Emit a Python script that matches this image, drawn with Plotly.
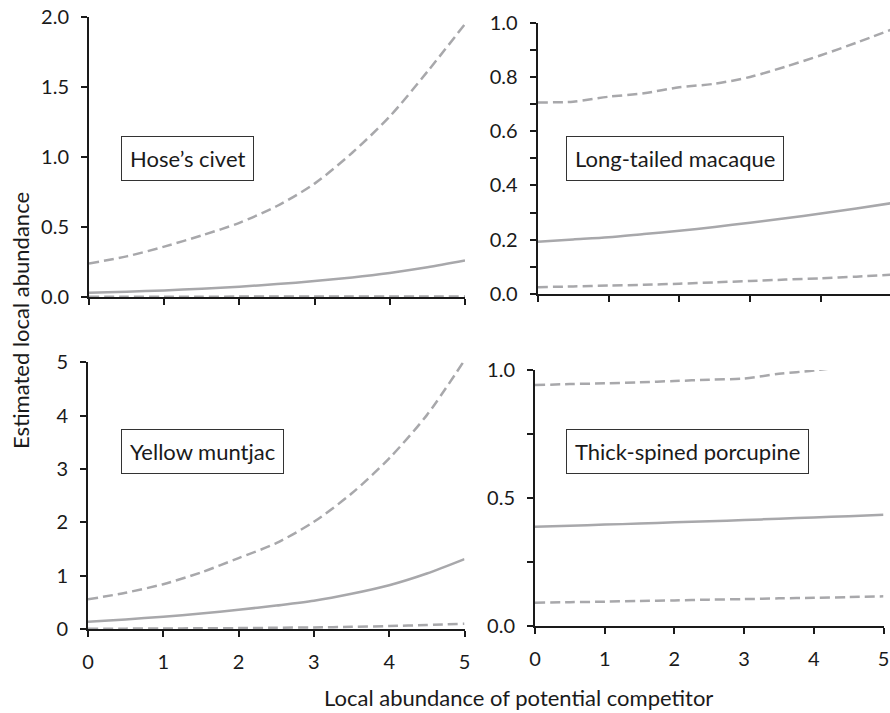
import plotly.graph_objects as go

# Competitor abundance (x) and model estimates for each species
competitor = [0, 0.5, 1, 1.5, 2, 2.5, 3, 3.5, 4, 4.5, 5]

civet_mean = [0.030, 0.038, 0.047, 0.059, 0.074, 0.092, 0.114, 0.140, 0.172, 0.212, 0.260]
civet_upper = [0.24, 0.29, 0.36, 0.44, 0.53, 0.65, 0.81, 1.03, 1.29, 1.61, 1.95]
civet_lower = [0.002, 0.002, 0.002, 0.002, 0.003, 0.003, 0.003, 0.003, 0.003, 0.004, 0.004]

macaque_mean = [0.193, 0.201, 0.209, 0.221, 0.233, 0.247, 0.263, 0.279, 0.297, 0.315, 0.335]
macaque_upper = [0.706, 0.709, 0.727, 0.740, 0.762, 0.775, 0.800, 0.838, 0.880, 0.926, 0.975]
macaque_lower = [0.025, 0.028, 0.031, 0.034, 0.038, 0.043, 0.048, 0.053, 0.058, 0.064, 0.071]

muntjac_mean = [0.138, 0.18, 0.23, 0.29, 0.36, 0.44, 0.53, 0.66, 0.82, 1.04, 1.31]
muntjac_upper = [0.556, 0.68, 0.84, 1.06, 1.33, 1.61, 2.01, 2.54, 3.20, 4.01, 5.04]
muntjac_lower = [0.005, 0.007, 0.010, 0.013, 0.017, 0.023, 0.030, 0.040, 0.055, 0.075, 0.100]

porcupine_mean = [0.388, 0.392, 0.396, 0.400, 0.405, 0.409, 0.414, 0.419, 0.424, 0.429, 0.435]
porcupine_upper = [0.941, 0.945, 0.948, 0.952, 0.957, 0.962, 0.967, 0.985, 0.998, 1.015, 1.030]
porcupine_lower = [0.091, 0.093, 0.095, 0.098, 0.100, 0.103, 0.105, 0.108, 0.110, 0.113, 0.116]

species = ["Hose\u2019s civet", "Long-tailed macaque", "Yellow muntjac", "Thick-spined porcupine"]

W, H = 890, 713
FONT = "Lato, Carlito, Calibri, sans-serif"
INK = "#1a1a1a"
GREY = "#A8A8AB"
LINE_W = 2.5
DASH = "10px,5px"

panels = [
    # (mean, upper, lower, x px span, y px span (top,bottom), y range, major dtick, minor dtick, tick fmt, x labels)
    (civet_mean, civet_upper, civet_lower, (89, 465), (17, 297), [0, 2.0], 0.5, None, ".1f", False),
    (macaque_mean, macaque_upper, macaque_lower, (537.7, 890), (22.7, 294), [0, 1.0], 0.2, 0.1, ".1f", False),
    (muntjac_mean, muntjac_upper, muntjac_lower, (88, 464.5), (362.3, 629), [0, 5], 1, None, "d", True),
    (porcupine_mean, porcupine_upper, porcupine_lower, (535, 883.5), (370, 626), [0, 1.0], 0.5, 0.25, ".1f", True),
]

fig = go.Figure()
layout = {}

for i, (mean, upper, lower, xs, ys, yr, dt, mdt, fmt, xlab) in enumerate(panels):
    n = "" if i == 0 else str(i + 1)
    xa, ya = "x" + n, "y" + n
    for vals, dash in ((upper, DASH), (lower, DASH), (mean, "solid")):
        fig.add_trace(go.Scatter(
            x=competitor, y=vals, xaxis=xa, yaxis=ya, mode="lines",
            line=dict(color=GREY, width=LINE_W, dash=dash, shape="spline", smoothing=0.8),
            showlegend=False, hoverinfo="skip",
        ))

    x0, x1 = xs
    xmax = 5.0
    if i == 1:
        # this panel's axis runs past the page edge; x=5 sits just beyond it
        xmax = 5.0 * (890 - x0) / (891.7 - x0)
    layout["xaxis" + n] = dict(
        domain=[x0 / W, min(x1 / W, 1.0)], range=[0, xmax], anchor=ya,
        automargin=False,
        showline=True, linecolor=INK, linewidth=2,
        ticks="outside", ticklen=6, tickwidth=1.5, tickcolor=INK,
        tickvals=[0, 1, 2, 3, 4, 5], showticklabels=xlab, ticklabelstandoff=8,
        showgrid=False, zeroline=False,
        tickfont=dict(family=FONT, size=20, color=INK),
    )
    ya_cfg = dict(
        domain=[1 - ys[1] / H, 1 - ys[0] / H], range=yr, anchor=xa,
        automargin=False,
        showline=True, linecolor=INK, linewidth=2,
        ticks="outside", ticklen=6, tickwidth=1.5, tickcolor=INK,
        dtick=dt, tick0=0, tickformat=fmt, ticklabelstandoff=8,
        showgrid=False, zeroline=False,
        tickfont=dict(family=FONT, size=20, color=INK),
    )
    if mdt is not None:
        ya_cfg["minor"] = dict(dtick=mdt, tick0=0, ticks="outside", ticklen=6,
                               tickwidth=1.5, tickcolor=INK, showgrid=False)
    layout["yaxis" + n] = ya_cfg

# Species labels in outlined boxes
label_pos = [(121, 159), (565.7, 159), (121, 451.5), (565.7, 451.5)]
annotations = []
for name, (lx, ly) in zip(species, label_pos):
    annotations.append(dict(
        text=name, x=lx / W, y=1 - ly / H, xref="paper", yref="paper",
        xanchor="left", yanchor="middle", showarrow=False,
        font=dict(family=FONT, size=22, color=INK),
        bordercolor="#333333", borderwidth=1, borderpad=8, bgcolor="white",
    ))

# Shared axis titles
annotations.append(dict(
    text="Local abundance of potential competitor", x=518 / W, y=1 - 697 / H,
    xref="paper", yref="paper", xanchor="center", yanchor="middle", showarrow=False,
    font=dict(family=FONT, size=22, color=INK),
))
annotations.append(dict(
    text="Estimated local abundance", x=20 / W, y=1 - 321 / H,
    xref="paper", yref="paper", xanchor="center", yanchor="middle", showarrow=False,
    textangle=-90, font=dict(family=FONT, size=22, color=INK),
))

fig.update_layout(
    width=W, height=H, margin=dict(l=0, r=0, t=0, b=0),
    paper_bgcolor="white", plot_bgcolor="white",
    annotations=annotations, **layout,
)

fig.write_html("out.html")
